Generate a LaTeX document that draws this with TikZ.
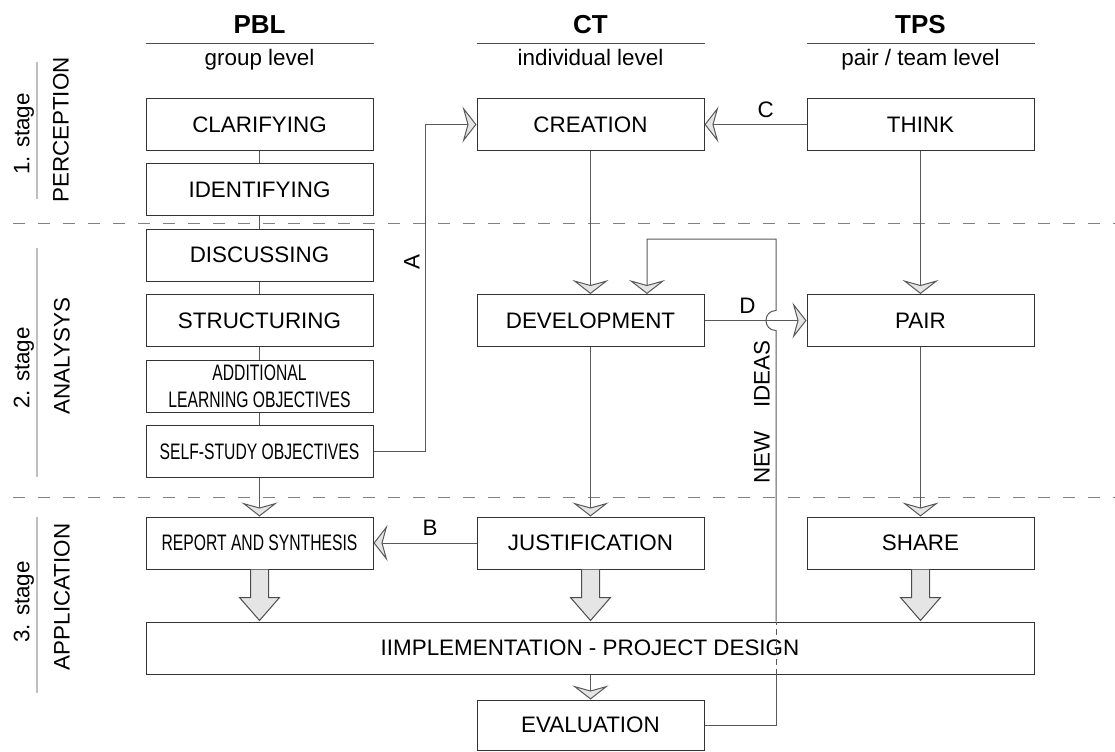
\documentclass[tikz,border=0pt]{standalone}
\usepackage{fontspec}
\setmainfont{Liberation Sans}
\usetikzlibrary{arrows.meta,calc}

\tikzset{
  txt/.style={font=\fontsize{11.2}{13.5}\selectfont},
  head/.style={font=\fontsize{13}{15}\selectfont\bfseries,anchor=base},
  box/.style={txt,draw=black!80,line width=0.5pt,minimum width=113.5pt,
              minimum height=26pt,inner sep=0pt,align=center},
  link/.style={draw=black!65,line width=0.5pt},
  chev/.style={link,-{Stealth[length=7pt,width=18pt,inset=2.5pt,fill=black!10]}},
  bigarrow/.style={draw=black!70,fill=black!10,line width=0.5pt},
  stageline/.style={draw=black!25,line width=1pt},
  sep/.style={draw=black!50,line width=0.5pt,dash pattern=on 6pt off 6.5pt},
  hline/.style={draw=black!70,line width=0.5pt},
}
\newcommand{\narrow}[1]{\scalebox{0.7}[1]{#1}}

\begin{document}
\begin{tikzpicture}[x=0.5pt,y=-0.5pt]
  \useasboundingbox (0,0) rectangle (1115,751);

  % stage separators
  \draw[sep] (13,223) -- (1115,223);
  \draw[sep] (13,497) -- (1115,497);

  % stage labels
  \draw[stageline] (37,62) -- (37,199);
  \draw[stageline] (37,248) -- (37,477);
  \draw[stageline] (37,517) -- (37,693);
  \node[txt,rotate=90] (st1) at (24,134) {1. stage};
  \node[txt,rotate=90] (per) at (61,130) {PERCEPTION};
  \node[txt,rotate=90] (st2) at (24,368) {2. stage};
  \node[txt,rotate=90] (ana) at (62,356) {ANALYSYS};
  \node[txt,rotate=90] (st3) at (24,602) {3. stage};
  \node[txt,rotate=90] (app) at (62,597) {APPLICATION};

  % PBL column
  \node[box] (clar)   at (259.5,124.5) {CLARIFYING};
  \node[box] (ident)  at (259.5,189.5) {IDENTIFYING};
  \node[box] (disc)   at (259.5,255)   {DISCUSSING};
  \node[box] (struct) at (259.5,320.5) {STRUCTURING};
  \node[box] (addit)  at (259.5,386)   {\narrow{ADDITIONAL}\\\narrow{LEARNING OBJECTIVES}};
  \node[box] (self)   at (259.5,451.5) {\narrow{SELF-STUDY OBJECTIVES}};
  \node[box] (report) at (259.5,543)   {\narrow{REPORT AND SYNTHESIS}};

  % CT column
  \node[box] (creation) at (590.5,124.5) {CREATION};
  \node[box] (devel)    at (590.5,320.5) {DEVELOPMENT};
  \node[box] (justif)   at (590.5,543)   {JUSTIFICATION};

  % TPS column
  \node[box] (think) at (920.5,124.5) {THINK};
  \node[box] (pair)  at (920.5,320.5) {PAIR};
  \node[box] (share) at (920.5,543)   {SHARE};

  \node[box,minimum width=444pt] (impl) at (590,648) {IIMPLEMENTATION - PROJECT DESIGN};
  \node[box,minimum height=25pt] (eval) at (590.5,725) {EVALUATION};

  % headers
  \coordinate (hl) at (0,43);
  \node[head] (pbl) at (259.5,33) {PBL};
  \node[head] (ct)  at (590.5,33) {CT};
  \node[head] (tps) at (920.5,33) {TPS};
  \foreach \c in {clar,creation,think}
    \draw[hline] (\c.west |- hl) -- (\c.east |- hl);
  \node[txt,anchor=base] (pbllev) at (259.5,65) {group level};
  \node[txt,anchor=base] (ctlev)  at (590.5,65) {individual level};
  \node[txt,anchor=base] (tpslev) at (920.5,65) {pair / team level};

  % vertical flow
  \foreach \a/\b in {clar/ident,ident/disc,disc/struct,struct/addit,addit/self}
    \draw[link] (\a.south) -- (\b.north);
  \foreach \a/\b in {self/report,creation/devel,devel/justif,think/pair,pair/share}
    \draw[chev] (\a.south) -- (\b.north);
  \draw[chev] (impl.south -| eval.north) -- (eval.north);
  \foreach \n in {report,justif,share}
    \draw[bigarrow] ($(\n.south)+(-9,0)$) -- ++(0,28) -- ++(-11,0)
      -- ($(\n.south)+(0,51)$) -- ++(20,-23) -- ++(-11,0) -- ($(\n.south)+(9,0)$);

  % cross links
  \draw[chev] (self.east) -- ++(52,0) |- (creation.west);
  \node[txt,rotate=90] (la) at (412,262) {A};
  \draw[chev] (justif.west) -- (report.east) node[txt,pos=0.45,above] (lb) {B};
  \draw[chev] (think.west) -- (creation.east) node[txt,pos=0.4,above] (lc) {C};
  \draw[chev] (devel.east) -- (pair.west) node[txt,pos=0.42,above] (ld) {D};

  % new ideas loop
  \coordinate (loopx) at (776,0);
  \coordinate (loopy) at (0,239);
  \draw[link] (eval.east) -- (eval.east -| loopx) -- (impl.south -| loopx);
  \draw[link,dash pattern=on 3pt off 2pt] (impl.south -| loopx) -- (impl.north -| loopx);
  \draw[chev] (impl.north -| loopx) -- ($(devel.east -| loopx)+(0,10)$)
    .. controls +(-13.3,0) and +(-13.3,0) .. ($(devel.east -| loopx)+(0,-10)$)
    -- (loopx |- loopy) -| ($(devel.north)+(56.5,0)$);
  \node[txt,rotate=90] (ideas) at (762,412) {NEW\hspace{12pt}IDEAS};
\end{tikzpicture}
\end{document}
